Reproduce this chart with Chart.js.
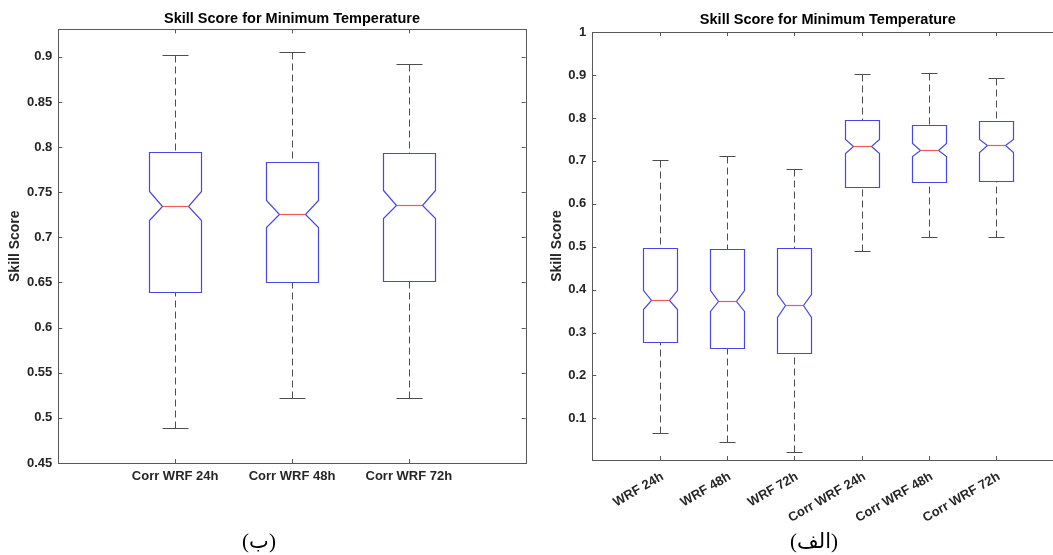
<!DOCTYPE html>
<html>
<head>
<meta charset="utf-8">
<script src="https://cdn.jsdelivr.net/npm/chart.js@4.4.1/dist/chart.umd.min.js"></script>
<style>
    html, body { margin: 0; padding: 0; background: #fff; width: 1053px; height: 555px; overflow: hidden; position: relative; }
    #wrapLeft { position: absolute; left: 0; top: 0; }
    #wrapRight { position: absolute; left: 530px; top: 0; }
    .caption { position: absolute; font-family: "Liberation Serif", "DejaVu Sans", serif; font-size: 21px; color: #000; transform: translate(-50%, -50%); white-space: nowrap; }
</style>
</head>
<body>
<div id="wrapLeft"><canvas id="leftChart" width="530" height="555"></canvas></div>
<div id="wrapRight"><canvas id="rightChart" width="560" height="555"></canvas></div>
<div class="caption" style="left:259px; top:541px;">(ب)</div>
<div class="caption" dir="rtl" style="left:814px; top:541px;">(الف)</div>

<script>
// --- Data ---
const corrLabels = ['Corr WRF 24h', 'Corr WRF 48h', 'Corr WRF 72h'];
const allLabels = ['WRF 24h', 'WRF 48h', 'WRF 72h', 'Corr WRF 24h', 'Corr WRF 48h', 'Corr WRF 72h'];

// raw WRF boxes
const wrfMin = [0.067, 0.046, 0.021];
const wrfQ1 = [0.278, 0.264, 0.252];
const wrfMed = [0.376, 0.374, 0.364];
const wrfQ3 = [0.496, 0.495, 0.498];
const wrfMax = [0.702, 0.712, 0.682];
const wrfNotchLo = [0.355, 0.351, 0.337];
const wrfNotchHi = [0.399, 0.398, 0.390];

// corrected WRF boxes
const corrMin = [0.489, 0.522, 0.522];
const corrQ1 = [0.639, 0.651, 0.652];
const corrMed = [0.735, 0.726, 0.736];
const corrQ3 = [0.795, 0.783, 0.793];
const corrMax = [0.902, 0.905, 0.892];
const corrNotchLo = [0.719, 0.712, 0.721];
const corrNotchHi = [0.751, 0.741, 0.752];

const leftTicks = [0.45, 0.5, 0.55, 0.6, 0.65, 0.7, 0.75, 0.8, 0.85, 0.9];
const rightTicks = [0.1, 0.2, 0.3, 0.4, 0.5, 0.6, 0.7, 0.8, 0.9, 1];

function makeBoxes(min, q1, med, q3, max, lo, hi, start) {
    return med.map((m, i) => ({
        x: start + i, y: m,
        min: min[i], q1: q1[i], q3: q3[i], max: max[i], lo: lo[i], hi: hi[i]
    }));
}

const leftBoxes = makeBoxes(corrMin, corrQ1, corrMed, corrQ3, corrMax, corrNotchLo, corrNotchHi, 1);
const rightBoxes = makeBoxes(wrfMin, wrfQ1, wrfMed, wrfQ3, wrfMax, wrfNotchLo, wrfNotchHi, 1)
    .concat(makeBoxes(corrMin, corrQ1, corrMed, corrQ3, corrMax, corrNotchLo, corrNotchHi, 4));

// --- Styling ---
const tickFont = { family: "'Liberation Sans', Arial, sans-serif", size: 13, weight: 'bold' };
const labelFont = { family: "'Liberation Sans', Arial, sans-serif", size: 14.5, weight: 'bold' };
const tickColor = '#262626';
const frameColor = '#595959';
const boxColor = '#4848e0';
const medianColor = '#ec5a5a';
const whiskerColor = '#4d4d4d';

// draws the frame, the inward ticks and the notched boxes
const notchBoxPlugin = {
    id: 'notchBox',
    afterDatasetsDraw(chart, args, opts) {
        const ctx = chart.ctx;
        const area = chart.chartArea;
        const xs = chart.scales.x;
        const ys = chart.scales.y;
        const px = v => Math.round(v) + 0.5;

        ctx.save();
        ctx.lineWidth = 1;

        // frame
        ctx.strokeStyle = frameColor;
        ctx.strokeRect(px(area.left), px(area.top), Math.round(area.right) - Math.round(area.left), Math.round(area.bottom) - Math.round(area.top));

        // inward tick marks
        ctx.beginPath();
        ys.ticks.forEach(t => {
            const y = px(ys.getPixelForValue(t.value));
            ctx.moveTo(area.left, y); ctx.lineTo(area.left + 4, y);
            ctx.moveTo(area.right, y); ctx.lineTo(area.right - 4, y);
        });
        xs.ticks.forEach(t => {
            const x = px(xs.getPixelForValue(t.value));
            ctx.moveTo(x, area.bottom); ctx.lineTo(x, area.bottom - 4);
            ctx.moveTo(x, area.top); ctx.lineTo(x, area.top + 4);
        });
        ctx.stroke();

        const unit = xs.getPixelForValue(1) - xs.getPixelForValue(0);
        const hw = Math.round(opts.boxHalf * unit);
        const nw = Math.round(hw / 2);
        const cw = Math.round(opts.capHalf * unit);

        chart.data.datasets[0].data.forEach(d => {
            const xc = px(xs.getPixelForValue(d.x));
            const yMin = px(ys.getPixelForValue(d.min));
            const yQ1 = px(ys.getPixelForValue(d.q1));
            const yMed = px(ys.getPixelForValue(d.y));
            const yQ3 = px(ys.getPixelForValue(d.q3));
            const yMax = px(ys.getPixelForValue(d.max));
            const yLo = px(ys.getPixelForValue(d.lo));
            const yHi = px(ys.getPixelForValue(d.hi));

            // whiskers
            ctx.strokeStyle = whiskerColor;
            ctx.lineWidth = 1;
            ctx.setLineDash([7, 4]);
            ctx.beginPath();
            ctx.moveTo(xc, yMax); ctx.lineTo(xc, yQ3);
            ctx.moveTo(xc, yMin); ctx.lineTo(xc, yQ1);
            ctx.stroke();
            ctx.setLineDash([]);
            ctx.beginPath();
            ctx.moveTo(xc - cw, yMax); ctx.lineTo(xc + cw, yMax);
            ctx.moveTo(xc - cw, yMin); ctx.lineTo(xc + cw, yMin);
            ctx.stroke();

            // notched box
            ctx.strokeStyle = boxColor;
            ctx.lineWidth = 1.2;
            ctx.beginPath();
            ctx.moveTo(xc - hw, yQ3);
            ctx.lineTo(xc + hw, yQ3);
            ctx.lineTo(xc + hw, yHi);
            ctx.lineTo(xc + nw, yMed);
            ctx.lineTo(xc + hw, yLo);
            ctx.lineTo(xc + hw, yQ1);
            ctx.lineTo(xc - hw, yQ1);
            ctx.lineTo(xc - hw, yLo);
            ctx.lineTo(xc - nw, yMed);
            ctx.lineTo(xc - hw, yHi);
            ctx.closePath();
            ctx.stroke();

            // median
            ctx.strokeStyle = medianColor;
            ctx.lineWidth = 1.2;
            ctx.beginPath();
            ctx.moveTo(xc - nw, yMed);
            ctx.lineTo(xc + nw, yMed);
            ctx.stroke();
        });
        ctx.restore();
    }
};

function buildChart(id, boxes, labels, cfg) {
    const ctx = document.getElementById(id).getContext('2d');
    return new Chart(ctx, {
        type: 'scatter',
        data: {
            datasets: [{ data: boxes, pointRadius: 0, pointHoverRadius: 0 }]
        },
        options: {
            responsive: false,
            animation: false,
            events: [],
            layout: { padding: { left: 0, right: cfg.padRight, top: 0, bottom: 0 } },
            plugins: {
                legend: { display: false },
                tooltip: { enabled: false },
                title: {
                    display: true,
                    fullSize: false,
                    text: 'Skill Score for Minimum Temperature',
                    color: '#000',
                    font: labelFont,
                    padding: cfg.titlePad
                },
                notchBox: { boxHalf: cfg.boxHalf, capHalf: cfg.capHalf }
            },
            scales: {
                x: {
                    type: 'linear',
                    min: 0,
                    max: labels.length + 1,
                    grid: { display: false, drawTicks: false },
                    border: { display: false },
                    afterBuildTicks: s => { s.ticks = labels.map((l, i) => ({ value: i + 1 })); },
                    afterFit: s => { s.height = cfg.xHeight; },
                    ticks: {
                        autoSkip: false,
                        color: tickColor,
                        font: tickFont,
                        padding: cfg.xPad,
                        labelOffset: cfg.xShift,
                        minRotation: cfg.rotation,
                        maxRotation: cfg.rotation,
                        callback: v => labels[v - 1]
                    }
                },
                y: {
                    min: cfg.yMin,
                    max: cfg.yMax,
                    grid: { display: false, drawTicks: false },
                    border: { display: false },
                    afterBuildTicks: s => { s.ticks = cfg.yTicks.map(v => ({ value: v })); },
                    afterFit: s => { s.width = cfg.yWidth; },
                    ticks: {
                        color: tickColor,
                        font: tickFont,
                        padding: 6,
                        callback: v => String(v)
                    },
                    title: {
                        display: true,
                        text: 'Skill Score',
                        color: tickColor,
                        font: { family: labelFont.family, size: 14, weight: 'bold' },
                        padding: { top: cfg.yTitlePad, bottom: 0 }
                    }
                }
            }
        },
        plugins: [notchBoxPlugin]
    });
}

buildChart('leftChart', leftBoxes, corrLabels, {
    padRight: 4.3, titlePad: { top: 10, bottom: 2 },
    boxHalf: 0.225, capHalf: 0.11,
    xHeight: 92, xPad: 6, xShift: 0, rotation: 0,
    yMin: 0.45, yMax: 0.9304, yTicks: leftTicks, yWidth: 58.3, yTitlePad: 6.6
});

buildChart('rightChart', rightBoxes, allLabels, {
    padRight: 26.6, titlePad: { top: 11, bottom: 3.7 },
    boxHalf: 0.253, capHalf: 0.123,
    xHeight: 95, xPad: 9, xShift: 3, rotation: 30,
    yMin: 0.003, yMax: 1, yTicks: rightTicks, yWidth: 62.3, yTitlePad: 18.3
});
</script>
</body>
</html>
